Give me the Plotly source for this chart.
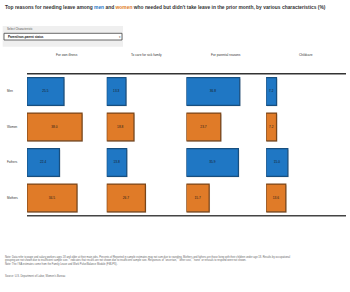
import plotly.graph_objects as go

# ---- data ----
groups = ["Men", "Women", "Fathers", "Mothers"]
reasons = ["For own illness", "To care for sick family", "For parental reasons", "Childcare"]
own_illness = [25.5, 38.0, 22.4, 34.5]
sick_family = [13.3, 18.8, 13.8, 26.7]
parental = [36.8, 23.7, 35.9, 15.7]
childcare = [7.2, 7.2, 15.0, 13.6]
series = [own_illness, sick_family, parental, childcare]
group_colors = ["#1F77C4", "#E07B28", "#1F77C4", "#E07B28"]
group_lines = ["#174f80", "#7a4518", "#174f80", "#7a4518"]

W, H = 350, 292
def px(x): return x / W
def py(y): return 1 - y / H

fig = go.Figure()
col_left = [27.0, 106.7, 186.4, 266.1]
col_w = 79.7
top, bot = 73.7, 215.7

for i, vals in enumerate(series):
    xa = "x" if i == 0 else f"x{i+1}"
    ya = "y" if i == 0 else f"y{i+1}"
    # soft drop shadow
    fig.add_trace(go.Bar(
        x=vals, y=groups, orientation="h", base=0.6,
        marker=dict(color="rgba(0,0,0,0.22)", line=dict(width=0)),
        width=0.78, offset=-0.36, xaxis=xa, yaxis=ya, showlegend=False, hoverinfo="skip",
    ))
    fig.add_trace(go.Bar(
        x=vals, y=groups, orientation="h",
        marker=dict(color=group_colors, line=dict(color=group_lines, width=1.2)),
        text=[f"{v:.1f}" for v in vals], textposition="inside",
        insidetextanchor="middle", textangle=0,
        textfont=dict(size=3.2, color="#1a1a1a", family="Arial"),
        width=0.78, offset=-0.39, xaxis=xa, yaxis=ya, showlegend=False, hoverinfo="skip",
    ))
    layout_x = dict(domain=[px(col_left[i]), px(col_left[i] + col_w)], range=[0, 55],
                    visible=False, fixedrange=True)
    layout_y = dict(domain=[py(bot), py(top)], categoryorder="array", categoryarray=groups,
                    autorange="reversed", visible=False, anchor=xa, fixedrange=True)
    if i == 0:
        fig.update_layout(xaxis=layout_x, yaxis=layout_y)
    else:
        layout_x["anchor"] = ya
        fig.update_layout(**{f"xaxis{i+1}": layout_x, f"yaxis{i+1}": layout_y})

ann = []
# title
ann.append(dict(x=px(3), y=py(7.3), xref="paper", yref="paper", xanchor="left", yanchor="middle",
                showarrow=False, font=dict(size=4.9, color="#333333", family="Arial"),
                text="<b>Top reasons for needing leave among <span style='color:#1F77C4'>men</span> and "
                     "<span style='color:#E07B28'>women</span> who needed but didn't take leave in the prior month, "
                     "by various characteristics (%)</b>"))
# dropdown mock
ann.append(dict(x=px(4.5), y=py(28.8), xref="paper", yref="paper", xanchor="left", yanchor="middle",
                showarrow=False, font=dict(size=2.8, color="#555555", family="Arial"),
                text="Select Characteristic"))
ann.append(dict(x=px(5.8), y=py(36.7), xref="paper", yref="paper", xanchor="left", yanchor="middle",
                showarrow=False, font=dict(size=3, color="#111111", family="Arial"),
                text="<b>Parent/non-parent status</b>"))
ann.append(dict(x=px(119.5), y=py(36.7), xref="paper", yref="paper", xanchor="center", yanchor="middle",
                showarrow=False, font=dict(size=3, color="#555555", family="Arial"), text="▾"))
# column headers
for i, r in enumerate(reasons):
    ann.append(dict(x=px(col_left[i] + col_w / 2), y=py(55), xref="paper", yref="paper",
                    xanchor="center", yanchor="middle", showarrow=False,
                    font=dict(size=3.2, color="#333333", family="Arial"), text=r))
# row labels
row_h = (bot - top) / len(groups)
for j, g in enumerate(groups):
    ann.append(dict(x=px(5), y=py(top + row_h * (j + 0.5)), xref="paper", yref="paper",
                    xanchor="left", yanchor="middle", showarrow=False,
                    font=dict(size=3.0, color="#333333", family="Arial"), text=g))
# notes
notes = [
    (256.7, "Note: Data refer to wage and salary workers ages 18 and older at their main jobs. Percents of Reported in sample estimates may not sum due to rounding. Mothers and fathers are those living with their children under age 18. Results by occupational"),
    (260.3, "grouping are not shown due to insufficient sample size. * indicates that results are not shown due to insufficient sample size. Responses of \"uncertain,\" \"other cost,\" \"none\" or refusals to respond were not shown."),
    (264.0, "Note: The / NA estimates come from the Family Leave and Work Pulse/Balance Module (FMLPS)."),
    (276.0, "Source: U.S. Department of Labor, Women's Bureau"),
]
for yv, t in notes:
    ann.append(dict(x=px(3), y=py(yv), xref="paper", yref="paper", xanchor="left", yanchor="middle",
                    showarrow=False, font=dict(size=2.6, color="#666666", family="Arial"), text=t))

shapes = [
    dict(type="rect", xref="paper", yref="paper", x0=px(2.7), x1=px(123), y0=py(46.7), y1=py(26),
         fillcolor="#efefef", line=dict(width=0), layer="below"),
    dict(type="rect", xref="paper", yref="paper", x0=px(4), x1=px(122), y0=py(40), y1=py(33.3),
         fillcolor="#ffffff", line=dict(width=0.8, color="#444444")),
    dict(type="line", xref="paper", yref="paper", x0=px(27), x1=px(346), y0=py(top), y1=py(top),
         line=dict(width=1.5, color="#333333")),
    dict(type="line", xref="paper", yref="paper", x0=px(27), x1=px(346), y0=py(bot), y1=py(bot),
         line=dict(width=1.5, color="#444444")),
]

fig.update_layout(width=W, height=H, margin=dict(l=0, r=0, t=0, b=0),
                  paper_bgcolor="white", plot_bgcolor="white",
                  annotations=ann, shapes=shapes, bargap=0.2, barmode="overlay")
fig.write_html("out.html", config={"displayModeBar": False})
